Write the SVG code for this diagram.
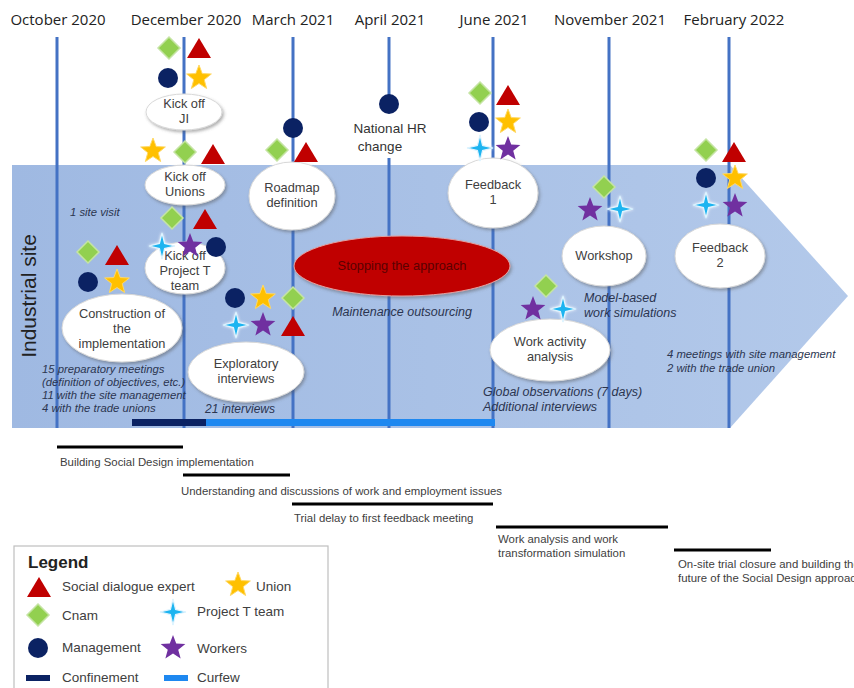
<svg xmlns="http://www.w3.org/2000/svg" width="854" height="688" viewBox="0 0 854 688">
<style>
.date{font-family:"Open Sans","Liberation Sans",sans-serif;font-size:15px;fill:#222;text-anchor:middle}
.vl{stroke:#4472c4;stroke-width:3}
.ell{fill:#fff;stroke:#d8d8d8;stroke-width:1;filter:url(#sh)}
.et{font-family:"Liberation Sans",Arial,sans-serif;font-size:12.8px;fill:#404040;text-anchor:middle}
.ann{font-family:"Liberation Sans",Arial,sans-serif;font-size:11.3px;font-style:italic;fill:#2b3550}
.ann2{font-family:"Liberation Sans",Arial,sans-serif;font-size:12.5px;font-style:italic;fill:#2b3550}
.ph{font-family:"Liberation Sans",Arial,sans-serif;font-size:11.4px;fill:#404040}
.bar{stroke:#000;stroke-width:3}
.lg{font-family:"Liberation Sans",Arial,sans-serif;font-size:13.5px;fill:#404040}
</style>
<defs>
<linearGradient id="bandg" x1="0" y1="0" x2="1" y2="0">
<stop offset="0" stop-color="#9fb9e2"/>
<stop offset="1" stop-color="#b3c9ea"/>
</linearGradient>
<filter id="sh" x="-20%" y="-20%" width="150%" height="150%">
<feDropShadow dx="1.5" dy="2" stdDeviation="1.5" flood-color="#555" flood-opacity="0.45"/>
</filter>
<filter id="glow" x="-50%" y="-50%" width="200%" height="200%">
<feDropShadow dx="0" dy="0" stdDeviation="1.5" flood-color="#fff" flood-opacity="0.9"/>
</filter>
<polygon id="tri" points="0,-11 12,9 -12,9" fill="#c00000"/>
<polygon id="dia" points="0,-11 11,0 0,11 -11,0" fill="#92d050" stroke="#c5e4a3" stroke-width="1.5"/>
<circle id="cir" r="10" fill="#0b2263"/>
<polygon id="ystar" points="0,-13 3.23,-4.45 12.36,-4.02 5.23,1.7 7.64,10.52 0,5.5 -7.64,10.52 -5.23,1.7 -12.36,-4.02 -3.23,-4.45" fill="#ffc000" stroke="#ffd966" stroke-width="1"/>
<polygon id="pstar" points="0,-13 3.23,-4.45 12.36,-4.02 5.23,1.7 7.64,10.52 0,5.5 -7.64,10.52 -5.23,1.7 -12.36,-4.02 -3.23,-4.45" fill="#7030a0"/>
<path id="spk" d="M0,-13 L2.6,-2.6 L13,0 L2.6,2.6 L0,13 L-2.6,2.6 L-13,0 L-2.6,-2.6 Z" fill="#1fb4f0" stroke="#dff4ff" stroke-width="1.2" filter="url(#glow)"/>
</defs>
<rect width="854" height="688" fill="#fff"/>

<g id="band">
<polygon points="12,165 730,165 848,296 730,428 12,428" fill="url(#bandg)"/>
<text x="36" y="296" transform="rotate(-90 36 296)" font-family="Liberation Sans,Arial,sans-serif" font-size="21" fill="#222" text-anchor="middle">Industrial site</text>
</g>

<g id="dates">
<text class="date" x="58" y="25">October 2020</text>
<text class="date" x="186" y="25">December 2020</text>
<text class="date" x="293" y="25">March 2021</text>
<text class="date" x="390" y="25">April 2021</text>
<text class="date" x="494" y="25">June 2021</text>
<text class="date" x="610" y="25">November 2021</text>
<text class="date" x="734" y="25">February 2022</text>
</g>

<g id="timelines">
<line class="vl" x1="57" y1="37" x2="57" y2="428"/>
<line class="vl" x1="184" y1="37" x2="184" y2="428"/>
<line class="vl" x1="293" y1="37" x2="293" y2="428"/>
<line class="vl" x1="389" y1="37" x2="389" y2="96"/>
<line class="vl" x1="389" y1="158" x2="389" y2="428"/>
<line class="vl" x1="493" y1="37" x2="493" y2="428"/>
<line class="vl" x1="609" y1="37" x2="609" y2="428"/>
<line class="vl" x1="729" y1="37" x2="729" y2="428"/>
</g>

<g id="periods">
<rect x="132" y="419" width="74" height="7" fill="#0b2263"/>
<rect x="206" y="419" width="289" height="7" fill="#1e88f0"/>
</g>

<g id="kickoff-ji">
<ellipse class="ell" cx="184" cy="112" rx="38" ry="18"/>
<text class="et" x="184" y="108">Kick off</text>
<text class="et" x="184" y="123">JI</text>
</g>
<g id="kickoff-unions">
<ellipse class="ell" cx="185" cy="185" rx="40" ry="20"/>
<text class="et" x="185" y="181">Kick off</text>
<text class="et" x="185" y="196">Unions</text>
</g>
<g id="kickoff-projectt">
<ellipse class="ell" cx="185" cy="268" rx="40" ry="26"/>
<text class="et" x="185" y="260">Kick off</text>
<text class="et" x="185" y="275">Project T</text>
<text class="et" x="185" y="290">team</text>
</g>
<g id="construction">
<ellipse class="ell" cx="122" cy="328" rx="60" ry="34"/>
<text class="et" x="122" y="318">Construction of</text>
<text class="et" x="122" y="333">the</text>
<text class="et" x="122" y="348">implementation</text>
</g>
<g id="exploratory">
<ellipse class="ell" cx="246" cy="372" rx="58" ry="30"/>
<text class="et" x="246" y="368">Exploratory</text>
<text class="et" x="246" y="383">interviews</text>
</g>
<g id="roadmap">
<ellipse class="ell" cx="292" cy="196" rx="43" ry="34"/>
<text class="et" x="292" y="192">Roadmap</text>
<text class="et" x="292" y="207">definition</text>
</g>
<g id="stopping">
<ellipse cx="402" cy="266" rx="108" ry="30" fill="#c00000" stroke="#e3a0a0" stroke-width="1" filter="url(#sh)"/>
<text class="et" x="402" y="270" style="fill:#5a0000">Stopping the approach</text>
</g>
<g id="feedback1">
<ellipse class="ell" cx="493" cy="193" rx="45" ry="35"/>
<text class="et" x="493" y="189">Feedback</text>
<text class="et" x="493" y="204">1</text>
</g>
<g id="workactivity">
<ellipse class="ell" cx="550" cy="350" rx="60" ry="31"/>
<text class="et" x="550" y="346">Work activity</text>
<text class="et" x="550" y="361">analysis</text>
</g>
<g id="workshop">
<ellipse class="ell" cx="604" cy="256" rx="42" ry="30"/>
<text class="et" x="604" y="260">Workshop</text>
</g>
<g id="feedback2">
<ellipse class="ell" cx="720" cy="256" rx="45" ry="32"/>
<text class="et" x="720" y="252">Feedback</text>
<text class="et" x="720" y="267">2</text>
</g>

<g id="national-hr">
<use href="#cir" x="389" y="104"/>
<text x="390" y="133" font-family="Liberation Sans,Arial,sans-serif" font-size="13.5" fill="#333" text-anchor="middle">National HR</text>
<text x="380" y="151" font-family="Liberation Sans,Arial,sans-serif" font-size="13.5" fill="#333" text-anchor="middle">change</text>
</g>

<g id="annotations">
<text class="ann" x="70" y="216">1 site visit</text>
<text class="ann" x="42" y="373">15 preparatory meetings</text>
<text class="ann" x="42" y="386">(definition of objectives, etc.)</text>
<text class="ann" x="42" y="399">11 with the site management</text>
<text class="ann" x="42" y="412">4 with the trade unions</text>
<text class="ann" x="205" y="413" style="font-size:12px">21 interviews</text>
<text class="ann2" x="402" y="316" text-anchor="middle">Maintenance outsourcing</text>
<text class="ann2" x="584" y="302">Model-based</text>
<text class="ann2" x="584" y="317">work simulations</text>
<text class="ann2" x="483" y="396">Global observations (7 days)</text>
<text class="ann2" x="483" y="411">Additional interviews</text>
<text class="ann" x="667" y="358">4 meetings with site management</text>
<text class="ann" x="667" y="372">2 with the trade union</text>
</g>

<g id="actors">
<use href="#dia" x="169" y="48"/><use href="#tri" x="199" y="49"/>
<use href="#cir" x="168" y="78"/><use href="#ystar" x="199" y="78"/>
<use href="#ystar" x="153" y="151"/><use href="#dia" x="185" y="152"/><use href="#tri" x="213" y="155"/>
<use href="#dia" x="172" y="218"/><use href="#tri" x="205" y="220"/>
<use href="#spk" x="162" y="246"/><use href="#pstar" x="190" y="246"/><use href="#cir" x="216" y="247"/>
<use href="#dia" x="88" y="252"/><use href="#tri" x="117" y="256"/>
<use href="#cir" x="88" y="282"/><use href="#ystar" x="117" y="282"/>
<use href="#cir" x="235" y="298"/><use href="#ystar" x="263" y="298"/><use href="#dia" x="293" y="298"/>
<use href="#spk" x="236" y="325"/><use href="#pstar" x="263" y="325"/><use href="#tri" x="293" y="327"/>
<use href="#cir" x="293" y="128"/><use href="#dia" x="277" y="150"/><use href="#tri" x="306" y="153"/>
<use href="#dia" x="480" y="93"/><use href="#tri" x="508" y="96"/>
<use href="#cir" x="479" y="122"/><use href="#ystar" x="508" y="122"/>
<use href="#spk" x="480" y="148"/><use href="#pstar" x="508" y="149"/>
<use href="#dia" x="546" y="286"/><use href="#pstar" x="533" y="309"/><use href="#spk" x="563" y="309"/>
<use href="#dia" x="604" y="187"/><use href="#pstar" x="590" y="210"/><use href="#spk" x="620" y="209"/>
<use href="#dia" x="706" y="150"/><use href="#tri" x="734" y="153"/>
<use href="#cir" x="706" y="178"/><use href="#ystar" x="735" y="178"/>
<use href="#spk" x="706" y="205"/><use href="#pstar" x="735" y="206"/>
</g>

<g id="phases">
<line class="bar" x1="57" y1="447" x2="183" y2="447"/>
<text class="ph" x="60" y="466">Building Social Design implementation</text>
<line class="bar" x1="183" y1="475" x2="290" y2="475"/>
<text class="ph" x="181" y="495">Understanding and discussions of work and employment issues</text>
<line class="bar" x1="292" y1="504" x2="493" y2="504"/>
<text class="ph" x="294" y="522">Trial delay to first feedback meeting</text>
<line class="bar" x1="496" y1="527" x2="668" y2="527"/>
<text class="ph" x="498" y="543">Work analysis and work</text>
<text class="ph" x="498" y="557">transformation simulation</text>
<line class="bar" x1="674" y1="550" x2="771" y2="550"/>
<text class="ph" x="678" y="568">On-site trial closure and building the</text>
<text class="ph" x="678" y="582">future of the Social Design approach</text>
</g>

<g id="legend">
<rect x="14" y="546" width="314" height="150" fill="#fff" stroke="#bfbfbf" stroke-width="1.2"/>
<text x="28" y="568" font-family="Liberation Sans,Arial,sans-serif" font-size="17" font-weight="bold" fill="#222">Legend</text>
<use href="#tri" x="39" y="588"/><text class="lg" x="62" y="591">Social dialogue expert</text>
<use href="#ystar" x="238" y="585"/><text class="lg" x="256" y="591">Union</text>
<use href="#dia" x="38" y="615"/><text class="lg" x="62" y="620">Cnam</text>
<use href="#spk" x="173" y="612"/><text class="lg" x="197" y="616">Project T team</text>
<use href="#cir" x="38" y="648"/><text class="lg" x="62" y="652">Management</text>
<use href="#pstar" x="173" y="648"/><text class="lg" x="197" y="653">Workers</text>
<rect x="26" y="675" width="24" height="6" fill="#0b2263"/><text class="lg" x="62" y="682">Confinement</text>
<rect x="164" y="675" width="24" height="6" fill="#1e88f0"/><text class="lg" x="197" y="682">Curfew</text>
</g>
</svg>
